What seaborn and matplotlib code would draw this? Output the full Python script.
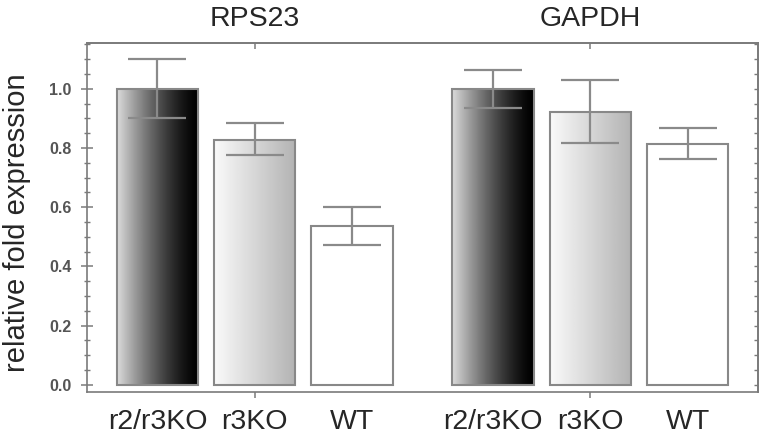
import numpy as np
import pandas as pd
import matplotlib
matplotlib.use("Agg")
import matplotlib.pyplot as plt
import matplotlib.transforms as mtransforms
from matplotlib.ticker import MultipleLocator
import seaborn as sns

# values
genes = ["RPS23", "GAPDH"]
genotypes = ["r2/r3KO", "r3KO", "WT"]
rps23_mean = [1.000, 0.828, 0.538]
rps23_low = [0.900, 0.775, 0.473]
rps23_high = [1.100, 0.886, 0.602]
gapdh_mean = [1.000, 0.922, 0.815]
gapdh_low = [0.937, 0.818, 0.764]
gapdh_high = [1.063, 1.031, 0.867]

df = pd.DataFrame({
    "gene": np.repeat(genes, len(genotypes)),
    "genotype": genotypes * len(genes),
    "value": rps23_mean + gapdh_mean,
    "low": rps23_low + gapdh_low,
    "high": rps23_high + gapdh_high,
})

sns.set_style("ticks")
plt.rcParams["font.family"] = ["Liberation Sans", "DejaVu Sans"]

grey = "#7a7a7a"
fig = plt.figure(figsize=(7.65, 4.34), dpi=100)
ax = fig.add_axes([87 / 765, 42 / 434, 671 / 765, 349 / 434])

sns.barplot(data=df, x="gene", y="value", hue="genotype", order=genes,
            hue_order=genotypes, width=0.87, gap=0.165, errorbar=None,
            edgecolor="#888888", linewidth=1.5, legend=False, ax=ax)

# gradient fills, left -> right grey level (start, end, curve)
shades = {"r2/r3KO": (0.86, 0.0, 1.4), "r3KO": (0.98, 0.70, 1.0), "WT": (1.0, 1.0, 1.0)}
centers = []
for cont, gt in zip(ax.containers, genotypes):
    for bar, gene in zip(cont, genes):
        bar.set_facecolor("none")
        bar.set_zorder(3)
        x0, w, h = bar.get_x(), bar.get_width(), bar.get_height()
        a, b, p = shades[gt]
        t = np.linspace(0, 1, 256)
        grad = (b + (a - b) * (1 - t) ** p).reshape(1, -1)
        im = ax.imshow(grad, cmap="gray", vmin=0, vmax=1, aspect="auto",
                       extent=[x0, x0 + w, 0, h], zorder=2)
        im.set_clip_path(bar)
        row = df[(df.gene == gene) & (df.genotype == gt)].iloc[0]
        xc = x0 + w / 2
        centers.append((xc, gt))
        ax.errorbar(xc, row.value,
                    yerr=[[row.value - row.low], [row.high - row.value]],
                    fmt="none", ecolor="#8a8a8a", elinewidth=1.6,
                    capsize=21, capthick=1.6, zorder=5)

ax.set_xlim(-0.5, 1.5)
ax.set_ylim(-0.024, 1.155)

# axis styling
for s in ax.spines.values():
    s.set_visible(True)
    s.set_color(grey)
    s.set_linewidth(1.2)

ax.set_yticks([0.0, 0.2, 0.4, 0.6, 0.8, 1.0])
ax.set_yticklabels(["0.0", "0.2", "0.4", "0.6", "0.8", "1.0"])
ax.yaxis.set_minor_locator(MultipleLocator(0.05))
ax.tick_params(axis="y", which="major", direction="inout", length=8.5,
               width=1.1, color=grey, pad=7, labelsize=11.5, labelcolor="#555555")
ax.tick_params(axis="y", which="minor", direction="inout", length=5,
               width=1.0, color=grey)
for lab in ax.get_yticklabels():
    lab.set_fontweight("bold")

# bar labels as major ticks, group-centre marks as minor ticks
centers.sort()
ax.set_xticks([c[0] for c in centers])
ax.set_xticklabels([c[1] for c in centers])
ax.tick_params(axis="x", which="major", length=0, pad=12, labelsize=20.5)
ax.xaxis.remove_overlapping_locs = False
ax.set_xticks([0, 1], minor=True)
ax.tick_params(axis="x", which="minor", direction="out", length=4,
               width=1.1, color=grey)

ax.set_xlabel("")
ax.set_ylabel("relative fold expression", fontsize=21)
ax.yaxis.set_label_coords(-0.084, 0.485)

# top and right ticks
top = ax.secondary_xaxis("top")
top.set_xticks([0, 1])
top.set_xticklabels(["", ""])
top.tick_params(direction="in", length=4, width=1.1, color=grey)
top.spines["top"].set_color(grey)
top.spines["top"].set_linewidth(1.2)

right = ax.secondary_yaxis("right")
right.yaxis.set_major_locator(MultipleLocator(0.05))
right.set_yticklabels([])
right.tick_params(direction="in", length=3, width=1.0, color=grey)
right.spines["right"].set_color(grey)
right.spines["right"].set_linewidth(1.2)

# gene titles above each group
trans = mtransforms.blended_transform_factory(ax.transData, ax.transAxes)
for i, g in enumerate(genes):
    ax.text(i, 1.0 + 17 / 349, g, transform=trans, ha="center",
            va="baseline", fontsize=20.5)

fig.savefig("out.png", dpi=100)
